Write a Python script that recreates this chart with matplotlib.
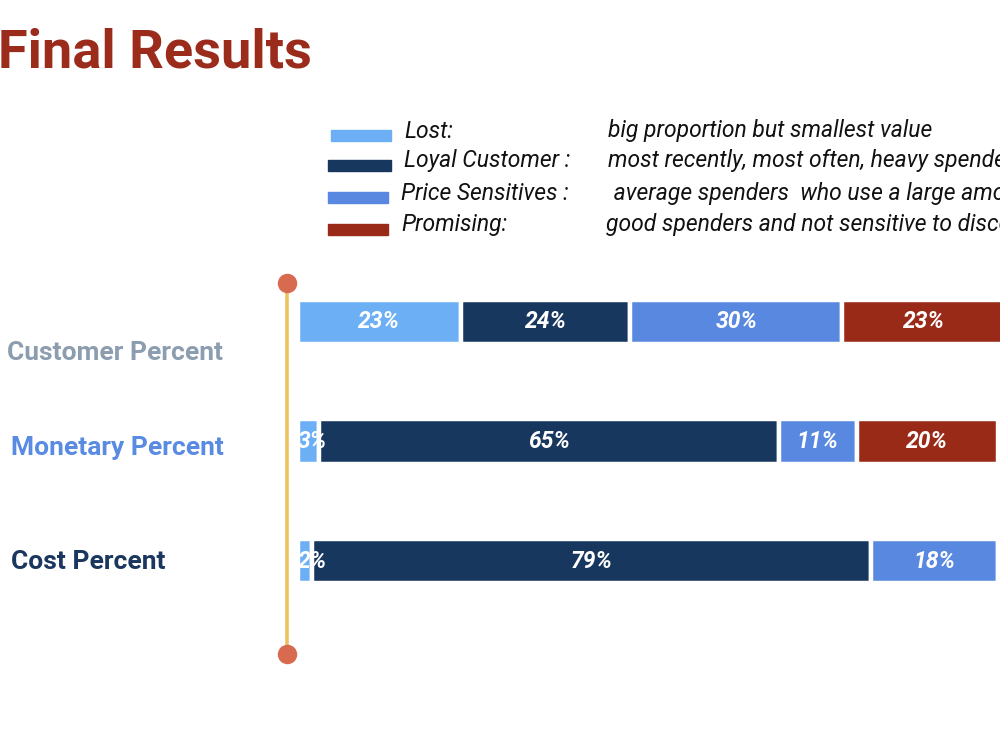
import matplotlib
matplotlib.use("Agg")
import matplotlib.pyplot as plt
from matplotlib.lines import Line2D
from matplotlib.patches import Rectangle
import matplotlib.transforms as mtransforms

# ---------------- data ----------------
categories = ["Customer Percent", "Monetary Percent", "Cost Percent"]
segments = ["Lost", "Loyal Customer", "Price Sensitives", "Promising"]
lost = [23, 3, 2]
loyal = [24, 65, 79]
price_sensitive = [30, 11, 18]
promising = [23, 20, 0]
legend_labels = ["Lost:", "Loyal Customer :", "Price Sensitives :", "Promising:"]
legend_desc = ["big proportion but smallest value",
               "most recently, most often, heavy spenders",
               " average spenders  who use a large amount of discounts",
               "good spenders and not sensitive to discounts"]

# ---------------- style ----------------
seg_colors = ["#6CAFF5", "#18375F", "#5888E0", "#992A18"]
cat_colors = ["#8C9DB0", "#5A8BE3", "#1B3760"]
title_color = "#9B2B1B"
label_font = "Roboto"

fig = plt.figure(figsize=(10, 7.5), dpi=100)
W, H = 1000, 750

def fx(px):
    return px / W

def fy(py):
    return 1 - py / H

# title
fig.text(fx(-2), fy(68), "Final Results", family="Roboto", weight="bold",
         fontsize=39, color=title_color, ha="left", va="baseline")

# bars axes: 0 -> x=298px, 100 -> x=1005px ; row centres 322, 441.5, 561 px
spacing = 119.5
top_px = 322 - spacing / 2
bot_px = top_px + 3 * spacing
ax = fig.add_axes([fx(298), fy(bot_px), fx(1005) - fx(298), fy(top_px) - fy(bot_px)])
ax.set_xlim(0, 100)
ax.set_ylim(2.5, -0.5)
ax.axis("off")

series = [lost, loyal, price_sensitive, promising]
ypos = list(range(len(categories)))
lw = 3.2
bar_h = (40 + lw * 100 / 72) / spacing
left = [0] * len(categories)
for name, vals, col in zip(segments, series, seg_colors):
    ax.barh(ypos, vals, left=left, height=bar_h, color=col,
            edgecolor="white", linewidth=lw, label=name, clip_on=False)
    for y, v, l in zip(ypos, vals, left):
        if v <= 0:
            continue
        if v < 5:
            xt, ha = l, "left"
        else:
            xt, ha = l + v / 2, "center"
        ax.text(xt, y, f"{v}%", ha=ha, va="center",
                color="white", family=label_font, weight="bold",
                style="italic", fontsize=16.5, clip_on=False, zorder=5)
    left = [a + b for a, b in zip(left, vals)]

# category labels
trans = mtransforms.blended_transform_factory(fig.transFigure, ax.transData)
cat_x = [7, 11, 11]
cat_dy = [31 / spacing, 6 / spacing, 1 / spacing]
for i, (c, col) in enumerate(zip(categories, cat_colors)):
    ax.text(fx(cat_x[i]), i + cat_dy[i], c, transform=trans, ha="left",
            va="center", color=col, family=label_font, weight="bold",
            fontsize=19, clip_on=False)

# timeline
fig.add_artist(Line2D([fx(287), fx(287)], [fy(283), fy(654)], color="#EEC15F",
                      lw=2.6, transform=fig.transFigure, zorder=1))
fig.add_artist(Line2D([fx(287), fx(287)], [fy(283), fy(654)], color="none",
                      marker="o", markersize=13, markerfacecolor="#D86A50",
                      markeredgecolor="#D86A50", linestyle="none",
                      transform=fig.transFigure, zorder=2))

# legend (manual)
row_y = [131, 161, 193, 225]
patch_x = [331, 328, 328, 328]
patch_w = [60, 63, 60, 60]
label_x = [404, 404, 401, 401]
desc_x = [608, 608, 608, 606]
for i, (lab, desc, col) in enumerate(zip(legend_labels, legend_desc, seg_colors)):
    fig.add_artist(Rectangle((fx(patch_x[i]), fy(row_y[i] + 10)), patch_w[i] / W,
                             11 / H, transform=fig.transFigure, color=col))
    fig.text(fx(label_x[i]), fy(row_y[i]), lab, family="Roboto", style="italic",
             fontsize=16.5, color="#111111", ha="left", va="center")
    fig.text(fx(desc_x[i]), fy(row_y[i]), desc, family="Roboto", style="italic",
             fontsize=16.5, color="#111111", ha="left", va="center")

fig.savefig("out.png", dpi=100)
